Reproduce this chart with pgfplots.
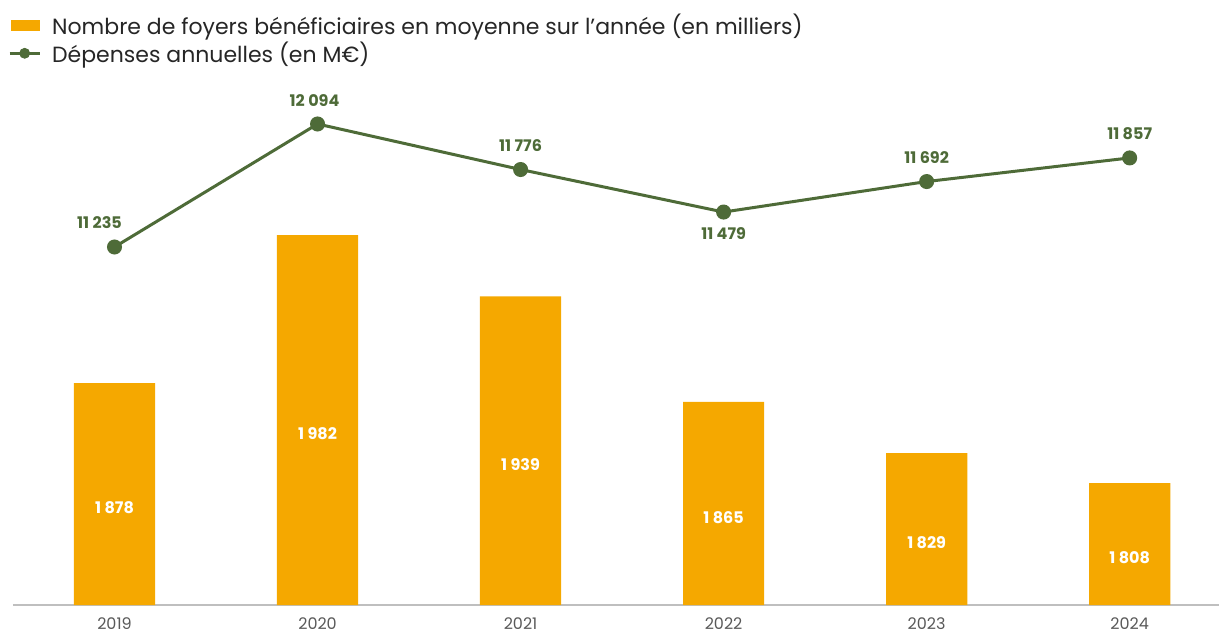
\documentclass[border=0pt]{standalone}
\usepackage{fontspec}
\setmainfont{Poppins}
\usepackage{pgfplots}
\pgfplotsset{compat=1.18}
\definecolor{barorange}{HTML}{F5A800}
\definecolor{linegreen}{HTML}{4E6B38}
\definecolor{tickgray}{HTML}{595959}
\definecolor{axisgray}{HTML}{BFBFBF}

\pgfplotsset{
  /pgf/number format/.cd, 1000 sep={\ }, assume math mode=true,
  /pgfplots/.cd,
  common/.style={scale only axis, width=603pt, height=300pt,
    xmin=-0.5, xmax=5.44, at={(0,0)}, anchor=south west}
}

\begin{document}
\begin{tikzpicture}
\path[use as bounding box] (-6.5pt,-14pt) rectangle (603pt,302.5pt);
\begin{axis}[common,
  ymin=1722.4, ymax=2143.4,
  axis y line=none, axis x line*=bottom,
  x axis line style={axisgray, line width=0.75pt, -},
  xtick={0,...,5}, xticklabels={2019,2020,2021,2022,2023,2024},
  major tick length=0pt,
  xticklabel style={text=tickgray, font=\fontsize{8}{10}\selectfont, yshift=-3pt},
  ybar, bar width=0.4, bar shift=0pt]
% foyers beneficiaires (milliers)
\addplot[fill=barorange, draw=none,
  nodes near coords,
  visualization depends on=rawy\as\barv,
  every node near coord/.append style={anchor=center, text=white,
    font=\bfseries\fontsize{8}{10}\selectfont,
    yshift={-(\barv-1722.4)*0.35635pt-7pt}}]
  table[x=x, y=v] {
x v
0 1878
1 1982
2 1939
3 1865
4 1829
5 1808
};
\end{axis}
\begin{axis}[common,
  ymin=8734.8, ymax=12925, hide axis, clip=false,
  legend style={at={(-0.004,0.9917)}, anchor=north west, draw=none, fill=none,
    inner sep=0pt, outer sep=0pt, row sep=-2pt, cells={anchor=west},
    /tikz/every odd column/.append style={column sep=3.5pt},
    font=\fontsize{11}{12}\selectfont, text=black!85},
  legend cell align=left]
\addlegendimage{legend image code/.code={\fill[barorange] (1pt,-2.5pt) rectangle (15pt,2.5pt);}}
\addlegendentry{Nombre de foyers bénéficiaires en moyenne sur l’année (en milliers)}
\addlegendimage{legend image code/.code={\draw[linegreen, line width=1.5pt] (0pt,0pt)--(15pt,0pt);
    \fill[linegreen] (7.5pt,0pt) circle (2.5pt);}}
\addlegendentry{Dépenses annuelles (en M€)}
% depenses annuelles (M EUR), dx dy = label offset in pt
\addplot[linegreen, line width=1.5pt, mark=*, mark size=3pt, forget plot,
  nodes near coords,
  visualization depends on={value \thisrow{dx} \as \ldx},
  visualization depends on={value \thisrow{dy} \as \ldy},
  every node near coord/.append style={anchor=center, text=linegreen,
    font=\bfseries\fontsize{8}{10}\selectfont,
    xshift=\ldx pt, yshift=\ldy pt}]
  table[x=x, y=v] {
x v dx dy
0 11235 -7.5 12
1 12094 -1.5 11.5
2 11776 0 12
3 11479 0 -10.5
4 11692 0 12
5 11857 0 12
};
\end{axis}
\end{tikzpicture}
\end{document}
